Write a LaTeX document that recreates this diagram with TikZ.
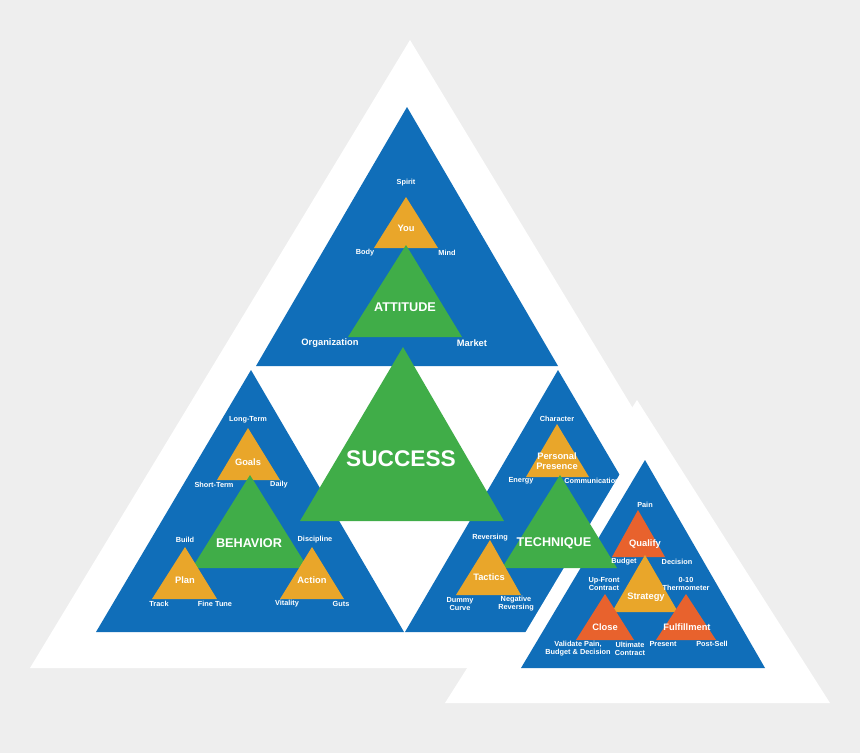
\documentclass[tikz,border=0pt]{standalone}
\usepackage{fontspec}
\setmainfont{Liberation Sans}
\definecolor{bg}{HTML}{EEEEEE}
\definecolor{bl}{HTML}{106EB9}
\definecolor{gr}{HTML}{40AD48}
\definecolor{og}{HTML}{E9A62A}
\definecolor{rd}{HTML}{E8622D}
\begin{document}
\begin{tikzpicture}[x=0.75pt,y=-0.75pt,
 lb/.style={text=white,font=\bfseries\fontsize{5.5}{6}\selectfont,align=center,inner sep=0pt},
 mid/.style={text=white,font=\bfseries\fontsize{7}{7.5}\selectfont,align=center,inner sep=0pt},
 big/.style={text=white,font=\bfseries\fontsize{9.5}{10}\selectfont,inner sep=0pt}]
\useasboundingbox[fill=bg] (0,0) rectangle (860,753);
\fill[white] (410,40) -- (30,668) -- (790,668) -- cycle;
\fill[white] (637,400) -- (445,703) -- (830,703) -- cycle;
\fill[bl] (407,107) -- (256,366) -- (558,366) -- cycle;
\fill[bl] (251,370) -- (96,632) -- (404,632) -- cycle;
\fill[bl] (558,370) -- (405,632) -- (712,632) -- cycle;
\fill[white] (645,432) -- (497,680) -- (791,680) -- cycle;
\fill[bl] (645,460) -- (521,668) -- (765,668) -- cycle;
\fill[gr] (403,347) -- (300,521) -- (504,521) -- cycle;
% top
\fill[og] (406,197) -- (374,248) -- (438,248) -- cycle;
\fill[gr] (406,245) -- (348,337) -- (462,337) -- cycle;
% left
\fill[og] (248,428) -- (217,480) -- (280,480) -- cycle;
\fill[gr] (250,475) -- (192,568) -- (308,568) -- cycle;
\fill[og] (185,547) -- (152,599) -- (217,599) -- cycle;
\fill[og] (312,547) -- (280,599) -- (344,599) -- cycle;
% right
\fill[og] (557,424) -- (526,477) -- (589,477) -- cycle;
\fill[gr] (560,475) -- (502,568) -- (617,568) -- cycle;
\fill[og] (490,540) -- (456,595) -- (521,595) -- cycle;
% small
\fill[rd] (638,510) -- (612,557) -- (665,557) -- cycle;
\fill[og] (645,555) -- (612,612) -- (678,612) -- cycle;
\fill[rd] (605,594) -- (576,640) -- (634,640) -- cycle;
\fill[rd] (686,594) -- (656,640) -- (716,640) -- cycle;
% texts
\node[big] (succ) at (401,459) {\fontsize{17}{18}\selectfont SUCCESS};
\node[lb] (spirit) at (406,183) {Spirit};
\node[mid] (you) at (406,228) {You};
\node[lb] (body) at (365,253) {Body};
\node[lb] (mind) at (447,253) {Mind};
\node[big] (att) at (405,307) {ATTITUDE};
\node[mid] (org) at (330,343) {Organization};
\node[mid] (mkt) at (472,343) {Market};
\node[lb] (lt) at (248,420) {Long-Term};
\node[mid] (goals) at (248,462) {Goals};
\node[lb] (st) at (214,485) {Short-Term};
\node[lb] (daily) at (279,485) {Daily};
\node[big] (beh) at (249,543) {BEHAVIOR};
\node[lb] (build) at (185,540) {Build};
\node[lb] (disc) at (315,540) {Discipline};
\node[mid] (plan) at (185,580) {Plan};
\node[mid] (act) at (312,580) {Action};
\node[lb] (track) at (159,604) {Track};
\node[lb] (ft) at (215,604) {Fine Tune};
\node[lb] (vit) at (287,604) {Vitality};
\node[lb] (guts) at (341,604) {Guts};
\node[lb] (char) at (557,419) {Character};
\node[mid] (pp) at (557,461) {Personal\\Presence};
\node[lb] (en) at (521,481) {Energy};
\node[lb] (comm) at (592,481) {Communication};
\node[big] (tech) at (554,543) {TECHNIQUE};
\node[lb] (rev) at (490,538) {Reversing};
\node[mid] (tac) at (489,577) {Tactics};
\node[lb] (dc) at (460,604) {Dummy\\Curve};
\node[lb] (nr) at (516,604) {Negative\\Reversing};
\node[lb] (pain) at (645,505) {Pain};
\node[mid] (qual) at (645,544) {Qualify};
\node[lb] (budg) at (624,562) {Budget};
\node[lb] (dec) at (677,562) {Decision};
\node[lb] (ufc) at (604,584) {Up-Front\\Contract};
\node[lb] (thm) at (686,584) {0-10\\Thermometer};
\node[mid] (strat) at (646,597) {Strategy};
\node[mid] (close) at (605,627) {Close};
\node[mid] (ful) at (687,627) {Fulfillment};
\node[lb] (vp) at (578,649) {Validate Pain,\\Budget \& Decision};
\node[lb] (uc) at (630,649) {Ultimate\\Contract};
\node[lb] (pres) at (663,644) {Present};
\node[lb] (ps) at (712,644) {Post-Sell};
\end{tikzpicture}
\end{document}
